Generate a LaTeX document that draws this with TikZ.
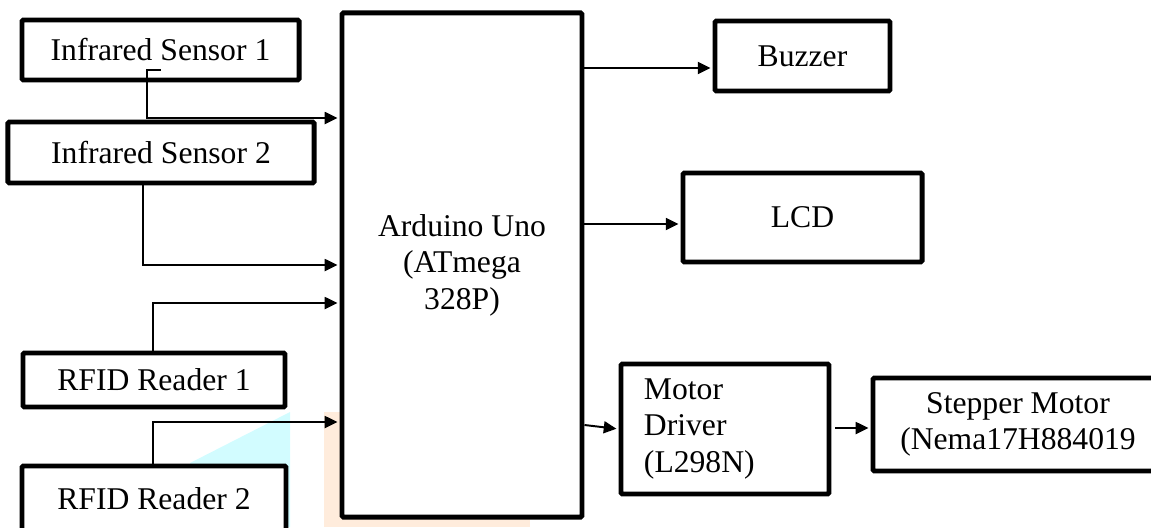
\documentclass[tikz,border=0pt]{standalone}
\usepackage{fontspec}
\setmainfont{Liberation Serif}
\usetikzlibrary{arrows.meta}
\definecolor{wmorange}{RGB}{255,236,220}
\definecolor{wmcyan}{RGB}{210,252,255}

\begin{document}
\begin{tikzpicture}[x=0.025cm, y=-0.025cm,
  font=\fontsize{22.5}{26}\selectfont,
  blk/.style={draw, line width=3.5pt, rounded corners=1pt, fill=white, inner sep=0pt, align=center},
  link/.style={line width=1.4pt, -{Triangle[length=9pt,width=8.5pt]}, shorten >=1.5pt}]
  \useasboundingbox (0,0) rectangle (1151,527);
  % watermark behind the blocks
  \fill[wmcyan] (290,412) -- (190,463) -- (190,527) -- (290,527) -- cycle;
  \fill[wmorange] (324,412) rectangle (530,527);

  % inputs
  \node[blk, minimum width=6.925cm, minimum height=1.5cm] (ir1) at (160.5,50) {Infrared Sensor 1};
  \node[blk, minimum width=7.65cm, minimum height=1.525cm] (ir2) at (161,152.5) {Infrared Sensor 2};
  \node[blk, minimum width=6.55cm, minimum height=1.35cm] (rfid1) at (154,380) {RFID Reader 1};
  \node[blk, minimum width=6.6cm, minimum height=1.625cm] (rfid2) at (154,498.5) {RFID Reader 2};

  % controller
  \node[blk, minimum width=6cm, minimum height=12.6cm] (uno) at (462,265) {Arduino Uno\\(ATmega\\328P)};

  % outputs
  \node[blk, minimum width=4.375cm, minimum height=1.75cm] (buzzer) at (802.5,56) {Buzzer};
  \node[blk, minimum width=5.975cm, minimum height=2.225cm] (lcd) at (802.5,217.5) {LCD};
  \node[blk, align=left, text width=4.05cm, inner xsep=0.575cm, minimum height=3.25cm] (driver) at (725,429) {Motor\\Driver\\(L298N)};
  \node[blk, minimum width=7.25cm, minimum height=2.325cm] (stepper) at (1018,424.5) {Stepper Motor\\(Nema17H884019};

  \draw[link] (ir1.south) ++(0,-12) -- ++(-13.5,0) |- (uno.west |- 0,118);
  \foreach \src/\anc/\x/\row in {ir2/south/143/265, rfid1/north/153/303, rfid2/north/153/422}
    {\draw[link] (\src.\anc -| \x,0) |- (uno.west |- 0,\row);}
  \foreach \dst/\row in {buzzer/68, lcd/224}
    {\draw[link] (uno.east |- 0,\row) -- (\dst.west |- 0,\row);}
  \draw[link] (uno.east |- 0,425) -- (driver.west |- 0,429);
  \draw[link] ([xshift=0.1cm]driver.east |- 0,428) -- (stepper.west |- 0,428);
\end{tikzpicture}
\end{document}
